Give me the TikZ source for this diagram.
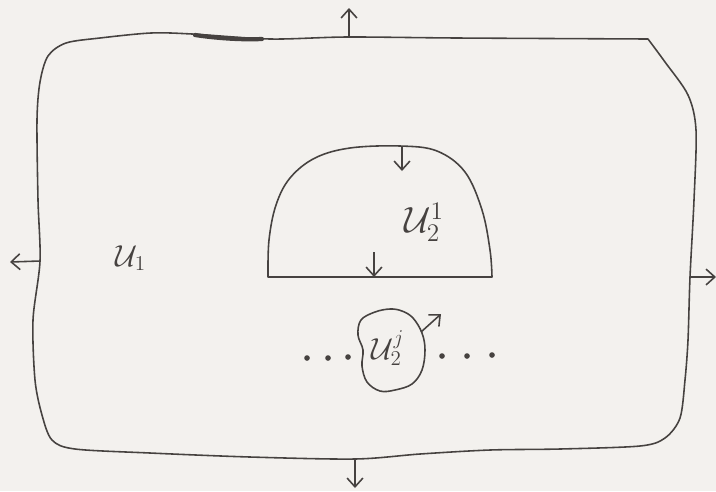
\documentclass[tikz,border=0pt]{standalone}
\usetikzlibrary{arrows.meta}
\definecolor{paper}{RGB}{243,241,238}
\definecolor{ink}{RGB}{70,66,64}
\begin{document}
\begin{tikzpicture}[x=0.02cm,y=-0.02cm,
  bd/.style={draw=ink,line width=0.9pt,line join=round,line cap=round},
  ar/.style={draw=ink,line width=0.9pt,-{Straight Barb[length=5pt,width=9pt]}},
  lbl/.style={text=ink,inner sep=0pt},
  dotc/.style={fill=ink,draw=none}]
\fill[paper] (0,0) rectangle (716,491);
\useasboundingbox (0,0) rectangle (716,491);
% outer region
\draw[bd] plot[smooth,tension=0.5] coordinates {(648,39) (665,62) (688,95) (696,130) (694,200) (690,277) (688,340) (685,380) (680,418) (665,438) (640,446) (560,449) (490,450) (420,454) (355,459) (250,457) (150,453) (75,449) (52,440) (42,415) (35,380) (33,320) (40,261) (38,200) (37,120) (40,82) (48,56) (66,43) (100,38) (151,33) (192,34) (270,39) (347,37) (457,38) (648,39)};
\draw[ink,line width=2.4pt,line cap=round] (195,35) .. controls (215,38) and (240,40) .. (262,39);
% half disk
\draw[bd] plot[smooth,tension=0.6] coordinates {(268,277) (269,240) (276,205) (290,178) (315,158) (350,148) (400,146) (437,151) (465,172) (482,210) (490,250) (492,277)} -- cycle;
% blob
\draw[bd] plot[smooth cycle,tension=0.6] coordinates {(390,309) (375,312) (361,320) (358,335) (363,350) (362,366) (367,382) (380,391) (395,390) (412,384) (422,370) (425,350) (422,333) (413,318) (402,311)};
% boundary points
\coordinate (tb) at (349,37);   \coordinate (tt) at (349,8);
\coordinate (lb) at (40,261);   \coordinate (lt) at (10,262);
\coordinate (rb) at (690,277);  \coordinate (rt) at (716,277);
\coordinate (bb) at (355,459);  \coordinate (bt) at (355,488);
\coordinate (hb) at (402,146);  \coordinate (ht) at (402,171);
\coordinate (db) at (374,252);  \coordinate (dt) at (374,277);
\coordinate (jb) at (421,332);  \coordinate (jt) at (441,314);
\draw[ar] (tb) -- (tt);
\draw[ar] (lb) -- (lt);
\draw[ar] (rb) -- (rt);
\draw[ar] (bb) -- (bt);
\draw[ar] (hb) -- (ht);
\draw[ar] (db) -- (dt);
\draw[ar] (jb) -- (jt);
% labels
\node[lbl,font=\LARGE] (u1) at (131,258) {$\mathcal{U}_1$};
\node[lbl,font=\huge] (u21) at (424,222) {$\mathcal{U}_2^1$};
\node[lbl,font=\LARGE] (u2j) at (388,348) {$\mathcal{U}_2^j$};
% dots
\foreach \p [count=\i] in {(307,358),(328,358),(348,357),(442,356),(467,356),(492,355)}
  \fill[dotc] \p circle (1.6pt);
\end{tikzpicture}
\end{document}
